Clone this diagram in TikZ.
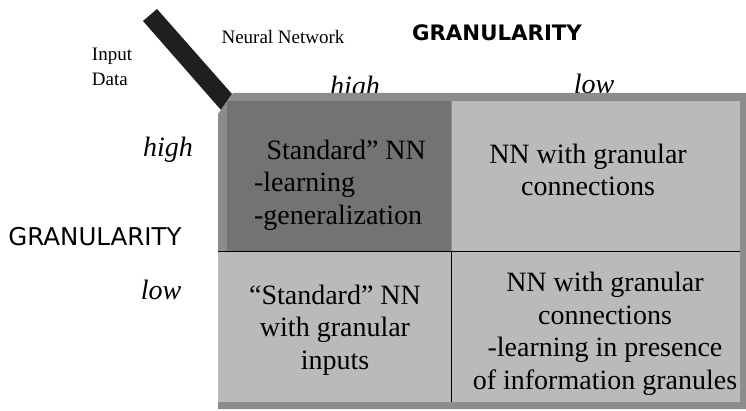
\documentclass[tikz,border=0pt]{standalone}
\usepackage{fontspec}
\setmainfont{Liberation Serif}
\newfontfamily\granfont{DejaVu Sans}
\usepackage{tikz}

\begin{document}
\begin{tikzpicture}[
        x=1pt, y=-1pt,
        cell/.style={rectangle, draw=none, inner sep=0pt, anchor=north west},
        celltext/.style={align=center, inner sep=0pt, font=\fontsize{28}{32.5}\selectfont},
        level/.style={inner sep=0pt, anchor=base, font=\fontsize{28}{32}\selectfont\itshape},
        small/.style={inner sep=0pt, align=left, font=\fontsize{19}{25}\selectfont},
        gran/.style={inner sep=0pt, font=\granfont\fontsize{24.5}{28}\selectfont},
        divider/.style={line width=1pt, black}
    ]
        \useasboundingbox (0,0) rectangle (746,411);

        % labels above and left of the table
        \node[small] (input) at (112,67) {Input\\Data};
        \node[inner sep=0pt, font=\fontsize{19}{23}\selectfont] (nn) at (283,37) {Neural Network};
        \node[gran, font=\granfont\bfseries\fontsize{21.3}{25}\selectfont] (topgran) at (497,33) {GRANULARITY};
        \node[gran] (leftgran) at (95,237) {GRANULARITY};
        \node[level] (colhigh) at (355,96) {high};
        \node[level] (collow) at (594,94) {low};
        \node[level] (rowhigh) at (168,157) {high};
        \node[level] (rowlow) at (161,300) {low};

        % bar and frame
        \fill[black!88] (143,21) -- (157,9) -- (232,94) -- (221,110) -- cycle;
        \fill[black!45] (218,114) -- (233,93) -- (746,93) -- (746,409) -- (218,409) -- cycle;

        % cells
        \node[cell, fill=black!55, minimum width=224pt, minimum height=151pt] (tl) at (227,101) {};
        \node[cell, fill=black!27, minimum width=288pt, minimum height=151pt] (tr) at (452,101) {};
        \node[cell, fill=black!27, minimum width=233pt, minimum height=150pt] (bl) at (218,252) {};
        \node[cell, fill=black!27, minimum width=289pt, minimum height=150pt] (br) at (451,252) {};
        \draw[divider] (bl.north west) -- (br.north east);
        \draw[divider] (br.north west) -- (br.south west);

        \node[celltext, align=left] (tltext) at (340,185) {\phantom{“}Standard” NN\\-learning\\-generalization};
        \node[celltext] (trtext) at (588,170) {NN with granular\\connections};
        \node[celltext] (bltext) at (335,330) {“Standard” NN\\with granular\\inputs};
        \node[celltext] (brtext) at (605,334) {NN with granular\\connections\\-learning in presence\\of information granules};
    \end{tikzpicture}
\end{document}
